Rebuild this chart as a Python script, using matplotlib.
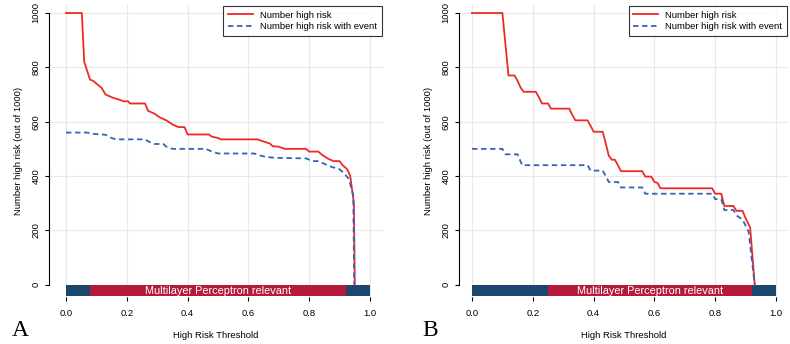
import matplotlib
matplotlib.use("Agg")
import matplotlib.pyplot as plt

plt.rcParams['font.family'] = ['Liberation Sans', 'DejaVu Sans']

# panel A
a_thr_risk = [0.0, 0.052, 0.06, 0.079, 0.09, 0.10, 0.117, 0.13, 0.14, 0.155, 0.17, 0.19, 0.205, 0.21,
              0.26, 0.27, 0.29, 0.31, 0.33, 0.35, 0.37, 0.39, 0.40, 0.47, 0.48, 0.50, 0.51, 0.63, 0.65,
              0.67, 0.68, 0.70, 0.72, 0.79, 0.80, 0.83, 0.84, 0.86, 0.88, 0.90, 0.91, 0.925, 0.935,
              0.947, 0.95]
a_risk = [1000, 1000, 820, 755, 750, 740, 725, 700, 695, 688, 683, 675, 675, 667,
          667, 640, 630, 615, 605, 590, 580, 580, 553, 553, 545, 540, 535, 535, 527,
          520, 510, 508, 500, 500, 490, 490, 480, 465, 455, 455, 440, 425, 400,
          300, 0]
a_thr_event = [0.0, 0.07, 0.09, 0.13, 0.15, 0.165, 0.26, 0.27, 0.29, 0.32, 0.33, 0.35, 0.46, 0.48,
               0.50, 0.62, 0.64, 0.66, 0.69, 0.79, 0.81, 0.83, 0.85, 0.87, 0.90, 0.915, 0.93, 0.945,
               0.948]
a_event = [560, 560, 555, 552, 540, 535, 535, 528, 518, 518, 508, 500, 500, 490,
           483, 483, 475, 470, 467, 465, 455, 455, 445, 435, 425, 410, 390, 330,
           0]
a_seg_start = [0.0, 0.08, 0.92]
a_seg_width = [0.08, 0.84, 0.08]

# panel B
b_thr_risk = [0.0, 0.10, 0.12, 0.14, 0.15, 0.16, 0.17, 0.21, 0.22, 0.23, 0.25, 0.26, 0.32, 0.33,
              0.34, 0.38, 0.39, 0.40, 0.43, 0.44, 0.45, 0.46, 0.47, 0.48, 0.49, 0.56, 0.57, 0.59,
              0.60, 0.61, 0.62, 0.79, 0.80, 0.82, 0.83, 0.86, 0.87, 0.89, 0.90, 0.915, 0.93]
b_risk = [1000, 1000, 770, 770, 750, 725, 710, 710, 690, 667, 667, 648, 648, 625,
          605, 605, 585, 563, 563, 520, 475, 460, 460, 440, 418, 418, 398, 398,
          378, 375, 355, 355, 335, 335, 290, 290, 272, 272, 245, 210, 0]
b_thr_event = [0.0, 0.10, 0.11, 0.15, 0.165, 0.38, 0.39, 0.43, 0.44, 0.45, 0.48, 0.49, 0.56, 0.57,
               0.79, 0.80, 0.82, 0.83, 0.86, 0.87, 0.89, 0.91, 0.93]
b_event = [500, 500, 480, 480, 440, 440, 420, 420, 400, 378, 378, 358, 358, 335,
           335, 315, 315, 275, 275, 255, 240, 195, 0]
b_seg_start = [0.0, 0.25, 0.92]
b_seg_width = [0.25, 0.67, 0.08]

seg_colors = ['#1b466e', '#b51a3a', '#1b466e']
xticks = [0.0, 0.2, 0.4, 0.6, 0.8, 1.0]
yticks = [0, 200, 400, 600, 800, 1000]

W, H = 790, 344
fig = plt.figure(figsize=(7.9, 3.44), dpi=100)


def panel(left_px, right_px, x0_px, x1_px, thr_r, risk, thr_e, event, starts, widths, letter):
    ax = fig.add_axes([left_px / W, 1 - 297 / H, (right_px - left_px) / W, (297 - 5) / H])
    scale = (x1_px - x0_px)
    ax.set_xlim((left_px - x0_px) / scale, (right_px - x0_px) / scale)
    ax.set_ylim(-45, 1000 + 8 / 0.272)
    for g in xticks:
        ax.axvline(g, color='#e8e8e8', lw=0.8, zorder=0)
    for g in yticks[1:]:
        ax.axhline(g, color='#e8e8e8', lw=0.8, zorder=0)
    ax.plot(thr_r, risk, color='#ee2a24', lw=1.3, label='Number high risk', zorder=3)
    ax.plot(thr_e, event, color='#3563b5', lw=1.3, ls=(0, (3, 2)),
            label='Number high risk with event', zorder=4)
    ax.barh(-21.5, widths, left=starts, height=43, color=seg_colors, zorder=2)
    ax.text(starts[1] + widths[1] / 2, -21.5, 'Multilayer Perceptron relevant', color='white',
            ha='center', va='center', fontsize=7.8, zorder=5)
    for s in ['top', 'right', 'bottom']:
        ax.spines[s].set_visible(False)
    ax.spines['left'].set_bounds(0, 1000)
    ax.spines['left'].set_linewidth(0.8)
    ax.set_yticks(yticks)
    ax.set_yticklabels([str(v) for v in yticks], rotation=90, va='center', fontsize=6.8)
    ax.set_xticks(xticks)
    ax.set_xticklabels([f'{v:.1f}' for v in xticks], fontsize=6.8)
    ax.tick_params(axis='both', length=3, width=0.8, pad=3)
    ax.tick_params(axis='x', pad=6)
    ax.set_ylabel('Number high risk (out of 1000)', fontsize=6.8, labelpad=6)
    ax.set_xlabel('High Risk Threshold', fontsize=6.8, labelpad=9)
    leg = ax.legend(loc='upper right', fontsize=6.8, frameon=True, fancybox=False,
                    edgecolor='black', borderaxespad=0.1, handlelength=2.6,
                    borderpad=0.5, labelspacing=0.25)
    leg.get_frame().set_linewidth(0.8)
    fig.text((left_px - 37) / W, 1 - 331 / H, letter, fontsize=17,
             family='Liberation Serif', va='center', ha='left')
    return ax


panel(49, 383, 66, 370, a_thr_risk, a_risk, a_thr_event, a_event, a_seg_start, a_seg_width, 'A')
panel(459, 788, 472, 776, b_thr_risk, b_risk, b_thr_event, b_event, b_seg_start, b_seg_width, 'B')

fig.savefig('out.png', dpi=100)
